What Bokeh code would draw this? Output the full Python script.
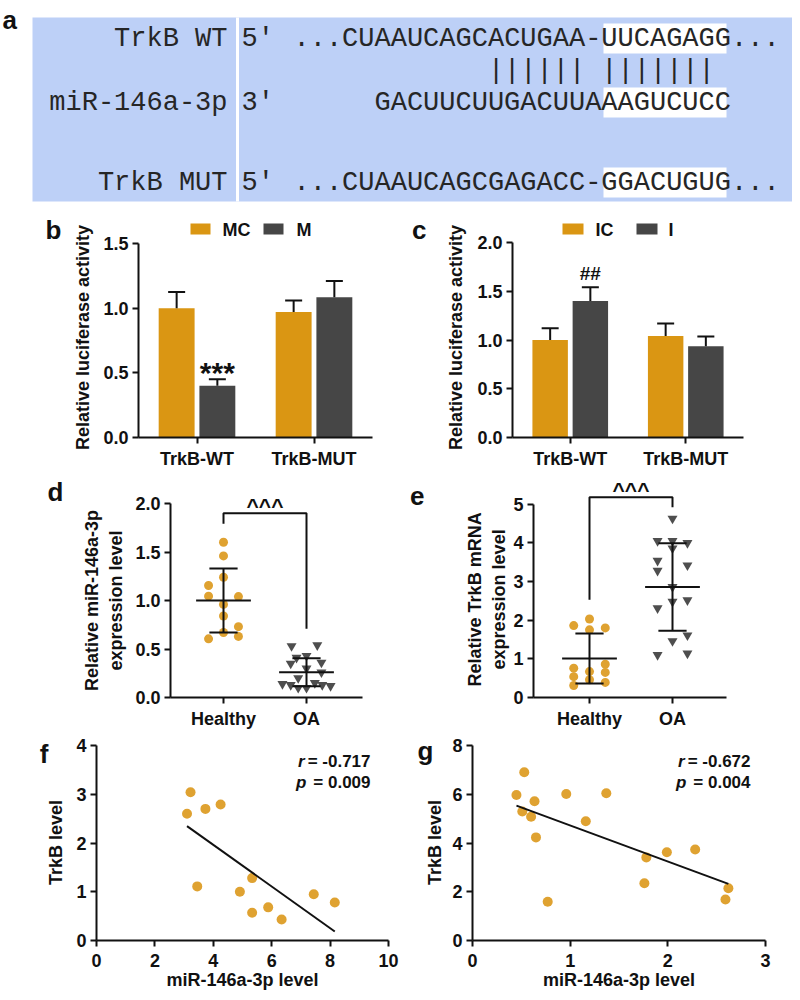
import numpy as np
from bokeh.plotting import figure
from bokeh.models import (Range1d, Label, FixedTicker, PrintfTickFormatter, LinearAxis)
from bokeh.layouts import column, row
from bokeh.embed import file_html
from bokeh.resources import INLINE
from bokeh.core.properties import value

# ---------------- data ----------------
# (a) sequence alignment
seq_labels = ["TrkB WT", "miR-146a-3p", "TrkB MUT"]
seq_ends = ["5'", "3'", "5'"]
seq_texts = ["...CUAAUCAGCACUGAA-UUCAGAGG...", "GACUUCUUGACUUAAAGUCUCC",
             "...CUAAUCAGCGAGACC-GGACUGUG..."]
seq_char_offsets = [0, 5, 0]
pair_text = "|||||| |||||||"
pair_char_offset = 12

# (b) luciferase, mimic
luc_groups = ["TrkB-WT", "TrkB-MUT"]
b_names = ["MC", "M"]
b_mc = [1.00, 0.97]
b_mc_err = [0.125, 0.09]
b_m = [0.40, 1.085]
b_m_err = [0.05, 0.125]

# (c) luciferase, inhibitor
c_names = ["IC", "I"]
c_ic = [1.00, 1.04]
c_ic_err = [0.12, 0.13]
c_i = [1.40, 0.935]
c_i_err = [0.14, 0.10]

# (d) miR-146a-3p expression
groups = ["Healthy", "OA"]
d_healthy = [1.60, 1.46, 1.155, 1.24, 1.045, 1.04, 0.96, 0.84, 0.73, 0.67, 0.605, 0.63]
d_healthy_dx = [0, 0, -0.18, 0, -0.18, 0.18, 0, 0, 0.18, 0, -0.18, 0.18]
d_oa = [0.53, 0.54, 0.43, 0.41, 0.36, 0.35, 0.30, 0.26, 0.20, 0.15, 0.14, 0.13, 0.13, 0.12, 0.10, 0.10]
d_oa_dx = [-0.18, 0.13, 0.0, -0.12, 0.18, -0.19, 0.0, 0.18, -0.1, 0.1, -0.29, -0.19, 0.19, 0.29, -0.1, 0.0]
d_mean = [1.00, 0.26]
d_sd = [0.33, 0.145]
d_bracket = [1.90, 1.79, 0.71]

# (e) TrkB mRNA expression
e_healthy = [2.03, 1.86, 1.75, 1.80, 0.76, 0.86, 0.67, 0.54, 0.65, 0.46, 0.31, 0.39]
e_healthy_dx = [0, -0.19, 0, 0.19, -0.19, 0.19, 0, -0.19, 0.19, 0, -0.19, 0.19]
e_oa = [4.63, 4.05, 4.05, 4.00, 3.86, 3.54, 3.42, 3.28, 2.86, 2.48, 2.52, 2.31, 1.46, 1.61, 1.10, 1.14]
e_oa_dx = [0, -0.18, 0, 0.18, 0, -0.18, 0.18, -0.18, 0, 0, 0.18, -0.18, 0, 0.18, -0.18, 0.18]
e_mean = [1.01, 2.86]
e_sd = [0.645, 1.13]
e_bracket = [5.18, 2.53, 4.92]

# (f) correlation, healthy
f_x = [3.22, 3.10, 3.73, 4.25, 3.45, 4.91, 5.33, 5.33, 5.88, 6.34, 7.44, 8.16]
f_y = [3.04, 2.60, 2.70, 2.79, 1.11, 1.00, 1.28, 0.57, 0.68, 0.43, 0.95, 0.78]
f_stats = ["-0.717", "0.009"]

# (g) correlation, OA
g_x = [0.45, 0.53, 0.51, 0.60, 0.635, 0.65, 0.77, 0.96, 1.16, 1.37, 1.76, 1.78, 1.99, 2.28, 2.59, 2.62]
g_y = [5.97, 6.90, 5.29, 5.08, 5.71, 4.23, 1.59, 6.01, 4.89, 6.04, 2.35, 3.41, 3.62, 3.73, 1.68, 2.14]
g_stats = ["-0.672", "0.004"]

# ---------------- style ----------------
ORANGE = "#DA9613"
DARK = "#464646"
ORANGE_PT = "#DFA231"
DARK_PT = "#4E4E4E"
BLUE = "#BDD0F7"
INK = "#111111"
SANS = "Liberation Sans"


def make_fig(origin, size, frame, xref, yref):
    """frame = page px (left, right, top, bottom); xref/yref = (px_a, val_a, px_b, val_b)."""
    ox, oy = origin
    w, h = size
    fx0, fx1, fy0, fy1 = frame
    kx = (xref[3] - xref[1]) / (xref[2] - xref[0])
    ky = (yref[3] - yref[1]) / (yref[2] - yref[0])
    x0 = xref[1] + (fx0 - xref[0]) * kx
    x1 = xref[1] + (fx1 - xref[0]) * kx
    y0 = yref[1] + (fy1 - yref[0]) * ky
    y1 = yref[1] + (fy0 - yref[0]) * ky
    p = figure(width=w, height=h, title=None,
               x_range=Range1d(x0, x1), y_range=Range1d(y0, y1),
               output_backend="svg", toolbar_location=None,
               min_border_left=int(round(fx0 - ox)), min_border_right=int(round(ox + w - fx1)),
               min_border_top=int(round(fy0 - oy)), min_border_bottom=int(round(oy + h - fy1)))
    p.outline_line_color = None
    p.grid.visible = False
    p.background_fill_color = "white"
    p.border_fill_color = "white"
    for ax in p.axis:
        ax.axis_line_width = 2
        ax.axis_line_color = INK
        ax.major_tick_line_width = 2
        ax.major_tick_line_color = INK
        ax.major_tick_out = 6
        ax.major_tick_in = 0
        ax.minor_tick_line_color = None
        ax.major_label_text_font = SANS
        ax.major_label_text_font_style = "bold"
        ax.major_label_text_font_size = "18px"
        ax.major_label_text_color = INK
        ax.major_label_standoff = 4
        ax.axis_label_text_font = SANS
        ax.axis_label_text_font_style = "bold"
        ax.axis_label_text_font_size = "18px"
        ax.axis_label_text_color = INK
    p.xaxis.major_label_standoff = 5
    p._map = (xref[0], xref[1], kx, yref[0], yref[1], ky)
    return p


def dx(p, px):
    a, v, k = p._map[0:3]
    return v + (px - a) * k


def dy(p, py):
    a, v, k = p._map[3:6]
    return v + (py - a) * k


def add_text(p, px, py, text, size="18px", align="left", baseline="alphabetic", style="bold"):
    p.add_layout(Label(x=dx(p, px), y=dy(p, py), text=text, text_font=SANS, text_font_style=style,
                       text_font_size=size, text_align=align, text_baseline=baseline,
                       text_color=INK))


def add_side_text(p, py, text, standoff, size="18px", orientation="horizontal"):
    """Text placed in the left side panel, as the single tick label of a bare axis."""
    yc = round(dy(p, py), 4)
    ax = LinearAxis(ticker=FixedTicker(ticks=[yc]), major_label_overrides={yc: text})
    ax.axis_line_color = None
    ax.major_tick_line_color = None
    ax.minor_tick_line_color = None
    ax.major_tick_out = 0
    ax.major_tick_in = 0
    ax.major_label_standoff = standoff
    ax.major_label_orientation = orientation
    ax.major_label_text_font = SANS
    ax.major_label_text_font_style = "bold"
    ax.major_label_text_font_size = size
    ax.major_label_text_color = INK
    p.add_layout(ax, "left")


# ---------------- (a) ----------------
pa = figure(width=792, height=213, x_range=Range1d(0, 792), y_range=Range1d(213, 0),
            x_axis_type=None, y_axis_type=None, output_backend="svg", toolbar_location=None,
            title=None, min_border=0, min_border_left=0, min_border_right=0,
            min_border_top=0, min_border_bottom=0)
pa.outline_line_color = None
pa.grid.visible = False
pa.quad(left=32, right=800, top=17, bottom=201, fill_color=BLUE, line_color=None)
pa.quad(left=235.5, right=238.5, top=17, bottom=201, fill_color="white", line_color=None)
row_y = [38, 102, 182]
CW = 16.2
SEQ0 = 293
pa.quad(left=[603] * 3, right=[726] * 3, top=[y - 15 for y in row_y], bottom=[y + 15 for y in row_y],
        fill_color="white", line_color=None)
MONO = value("Liberation Mono")
SEQ_INK = "#262626"
pa.text(x=[227] * 3, y=row_y, text=seq_labels, text_font=MONO, text_font_size="27px",
        text_align="right", text_baseline="middle", text_color=SEQ_INK)
pa.text(x=[241] * 3, y=row_y, text=seq_ends, text_font=MONO, text_font_size="27px",
        text_align="left", text_baseline="middle", text_color=SEQ_INK)
pa.text(x=[SEQ0 + o * CW for o in seq_char_offsets], y=row_y, text=seq_texts, text_font=MONO,
        text_font_size="27px", text_align="left", text_baseline="middle", text_color=SEQ_INK)
pa.text(x=[SEQ0 + pair_char_offset * CW], y=[70], text=[pair_text], text_font=MONO,
        text_font_size="27px", text_align="left", text_baseline="middle", text_color=SEQ_INK)
pa.add_layout(Label(x=2, y=19, text="a", text_font=SANS, text_font_style="bold",
                    text_font_size="26px", text_baseline="alphabetic", text_color=INK))


# ---------------- (b), (c) bar charts ----------------
def bar_panel(origin, size, frame, xref, yref, ytop, vals1, err1, vals2, err2, names, yticks,
              leg_sq, leg_tx, leg_w, ylab_y, ylab_so, letter, letter_y, letter_so,
              mark, mark_size, mark_dy):
    p = make_fig(origin, size, frame, xref, yref)
    centers = np.arange(len(luc_groups)) + 0.5
    off = 0.174
    bw = 0.307
    p.vbar(x=centers - off, top=vals1, width=bw, fill_color=ORANGE, line_color=None)
    p.vbar(x=centers + off, top=vals2, width=bw, fill_color=DARK, line_color=None)
    cap = abs(8.5 * p._map[2])
    for xs, v, e in ((centers - off, vals1, err1), (centers + off, vals2, err2)):
        v = np.array(v)
        e = np.array(e)
        p.segment(x0=xs, y0=v, x1=xs, y1=v + e, line_color=INK, line_width=2)
        p.segment(x0=xs - cap, y0=v + e, x1=xs + cap, y1=v + e, line_color=INK, line_width=2)
    p.xaxis.ticker = FixedTicker(ticks=list(centers))
    p.xaxis.major_label_overrides = {float(c): g for c, g in zip(centers, luc_groups)}
    p.yaxis.ticker = FixedTicker(ticks=yticks)
    p.yaxis.formatter = PrintfTickFormatter(format="%.1f")
    p.yaxis.bounds = (0, ytop)
    # legend
    for sx, tx, nm, col in zip(leg_sq, leg_tx, names, (ORANGE, DARK)):
        p.quad(left=dx(p, sx), right=dx(p, sx + leg_w), top=dy(p, 223), bottom=dy(p, 234),
               fill_color=col, line_color=None)
        add_text(p, tx, 229, nm, baseline="middle")
    # significance mark
    mx = centers[0] + off
    my = vals2[0] + err2[0] - mark_dy * p._map[5]
    p.add_layout(Label(x=mx, y=my, text=mark, text_font=SANS, text_font_style="bold",
                       text_font_size=mark_size, text_align="center", text_baseline="alphabetic",
                       text_color=INK))
    add_side_text(p, ylab_y, "Relative luciferase activity", ylab_so, orientation="vertical")
    add_side_text(p, letter_y, letter, letter_so, size="26px")
    return p


pb = bar_panel((0, 213), (400, 262), (138, 372, 215, 437), (138, 0, 372, 2), (437, 0, 243, 1.5),
               1.5, b_mc, b_mc_err, b_m, b_m_err, b_names, [0, 0.5, 1.0, 1.5],
               (190, 263), (222, 296), 20, 337, 7, "b", 229, 9, "***", "30px", 7)
pc = bar_panel((400, 213), (392, 262), (512, 743, 215, 437), (512, 0, 743, 2), (437, 0, 242, 2.0),
               2.0, c_ic, c_ic_err, c_i, c_i_err, c_names, [0, 0.5, 1.0, 1.5, 2.0],
               (562, 636), (595, 668), 21, 337, 8, "c", 229, 17, "##", "19px", 14)


# ---------------- (d), (e) dot plots ----------------
def dot_panel(origin, size, frame, xref, yref, ytop, h_vals, h_dx, o_vals, o_dx, mean, sd,
              bracket, yticks, fmt, ylabel, ylab_y, ylab_so, letter, letter_y, letter_so, mark_dy):
    p = make_fig(origin, size, frame, xref, yref)
    p.scatter(x=np.array(h_dx) + 0, y=h_vals, size=9, marker="circle",
              fill_color=ORANGE_PT, line_color=None)
    p.scatter(x=np.array(o_dx) + 1, y=o_vals, size=10, marker="inverted_triangle",
              fill_color=DARK_PT, line_color=None)
    xs = np.arange(len(groups))
    m = np.array(mean)
    s = np.array(sd)
    p.segment(x0=xs - 0.33, y0=m, x1=xs + 0.33, y1=m, line_color=INK, line_width=2)
    p.segment(x0=xs, y0=m - s, x1=xs, y1=m + s, line_color=INK, line_width=2)
    p.segment(x0=np.r_[xs, xs] - 0.17, y0=np.r_[m - s, m + s], x1=np.r_[xs, xs] + 0.17,
              y1=np.r_[m - s, m + s], line_color=INK, line_width=2)
    p.line(x=[0, 0, 1, 1], y=[bracket[1], bracket[0], bracket[0], bracket[2]],
           line_color=INK, line_width=2)
    p.add_layout(Label(x=0.5, y=bracket[0] - mark_dy * p._map[5], text="^^^", text_font=SANS,
                       text_font_style="bold", text_font_size="21px", text_align="center",
                       text_baseline="alphabetic", text_color=INK))
    p.xaxis.ticker = FixedTicker(ticks=[0, 1])
    p.xaxis.major_label_overrides = {0: groups[0], 1: groups[1]}
    p.yaxis.ticker = FixedTicker(ticks=yticks)
    p.yaxis.formatter = PrintfTickFormatter(format=fmt)
    p.yaxis.bounds = (0, ytop)
    add_side_text(p, ylab_y, ylabel, ylab_so, orientation="vertical")
    add_side_text(p, letter_y, letter, letter_so, size="26px")
    return p


pd_ = dot_panel((0, 475), (400, 256), (170, 362, 477, 697), (223, 0, 306, 1), (697, 0, 503, 2.0),
                2.0, d_healthy, d_healthy_dx, d_oa, d_oa_dx, d_mean, d_sd, d_bracket,
                [0, 0.5, 1.0, 1.5, 2.0], "%.1f", "Relative miR-146a-3p\nexpression level", 600, 7,
                "d", 491, 15, 8)
pe = dot_panel((400, 475), (392, 256), (533, 726, 475, 697), (589, 0, 672, 1), (697, 0, 502, 5),
               5, e_healthy, e_healthy_dx, e_oa, e_oa_dx, e_mean, e_sd, e_bracket,
               [0, 1, 2, 3, 4, 5], "%d", "Relative TrkB mRNA\nexpression level", 598, 1,
               "e", 494, 38, 8)


# ---------------- (f), (g) correlations ----------------
def corr_panel(origin, size, frame, xref, yref, ytop, xs, ys, xticks, yticks, stats, stat_right,
               ylab_so, letter, letter_y, letter_so):
    p = make_fig(origin, size, frame, xref, yref)
    p.scatter(x=xs, y=ys, size=10, marker="circle", fill_color=ORANGE_PT, line_color=None)
    k, b = np.polyfit(xs, ys, 1)
    lx = np.array([min(xs), max(xs)])
    p.line(x=lx, y=k * lx + b, line_color=INK, line_width=2)
    p.xaxis.ticker = FixedTicker(ticks=xticks)
    p.yaxis.ticker = FixedTicker(ticks=yticks)
    p.yaxis.bounds = (0, ytop)
    p.xaxis.major_label_standoff = 7
    p.xaxis.axis_label = "miR-146a-3p level"
    p.xaxis.axis_label_standoff = 0
    add_text(p, stat_right, 761, "= " + stats[0], size="17px", align="right")
    add_text(p, stat_right, 782, "= " + stats[1], size="17px", align="right")
    add_text(p, stat_right - 66, 761, "r", size="17px", align="right", style="bold italic")
    add_text(p, stat_right - 64, 782, "p", size="17px", align="right", style="bold italic")
    add_side_text(p, 842, "TrkB level", ylab_so, orientation="vertical")
    add_side_text(p, letter_y, letter, letter_so, size="26px")
    return p


pf = corr_panel((0, 731), (400, 267), (96, 388, 732, 940), (96, 0, 388, 10), (940, 0, 745, 4), 4,
                f_x, f_y, [0, 2, 4, 6, 8, 10], [0, 1, 2, 3, 4], f_stats, 370, 7, "f", 739, -5)
pg = corr_panel((400, 731), (392, 267), (472, 765, 732, 940), (472, 0, 765, 3), (940, 0, 745, 8), 8,
                g_x, g_y, [0, 1, 2, 3], [0, 2, 4, 6, 8], g_stats, 750, 4, "g", 741, -11)

layout = column(pa, row(pb, pc), row(pd_, pe), row(pf, pg))
open("out.html", "w").write(file_html(layout, INLINE))
